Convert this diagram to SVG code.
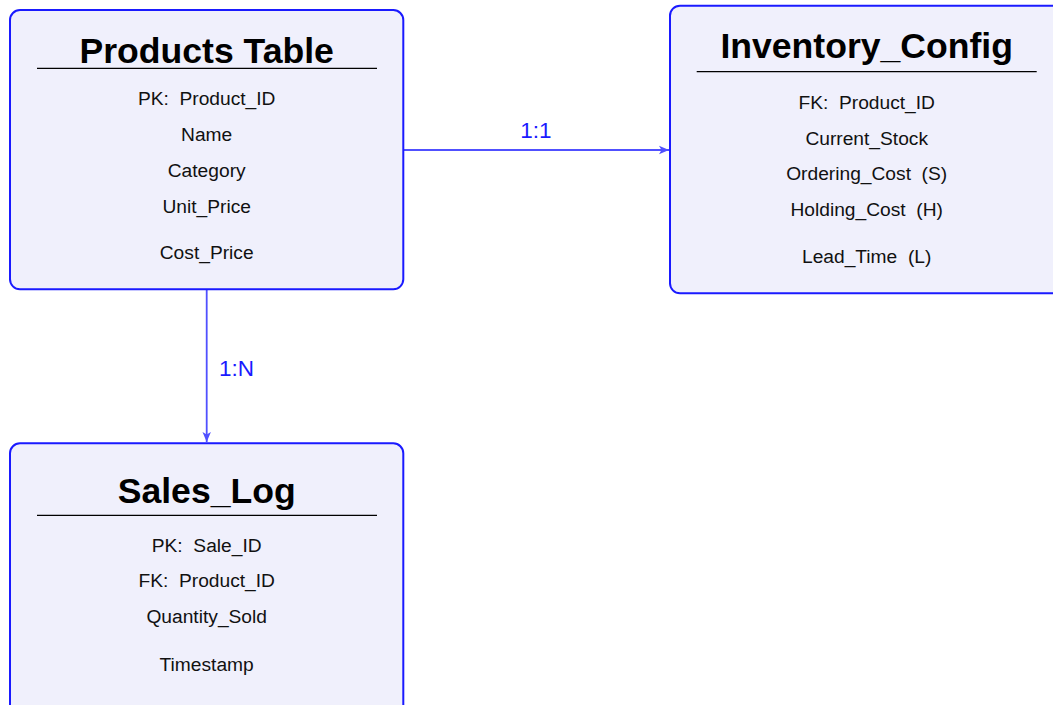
<svg xmlns="http://www.w3.org/2000/svg" width="1053" height="705" viewBox="0 0 1053 705">
<defs>
<style>
.box{fill:#f0f0fc;stroke:#1a1aff;stroke-width:2}
.rule{stroke:#000;stroke-width:1.2}
.title{font-family:"Liberation Sans",Arial,sans-serif;font-weight:bold;font-size:35.6px;fill:#000;text-anchor:middle}
.attr{font-family:"Liberation Sans",Arial,sans-serif;font-size:19.2px;fill:#111;text-anchor:middle;white-space:pre}
.conn{stroke:#5050ff;stroke-width:1.8;fill:none}
.lbl{font-family:"Liberation Sans",Arial,sans-serif;font-size:22.5px;fill:#1a1aff}
</style>
<marker id="arr" viewBox="0 0 10 10" refX="10" refY="5" markerWidth="10" markerHeight="10" markerUnits="userSpaceOnUse" orient="auto">
<path d="M0,0.8 L10,5 L0,9.2 L2.5,5 Z" fill="#5050ff"/>
</marker>
</defs>
<rect width="1053" height="705" fill="#fff"/>
<g id="connectors">
<line class="conn" x1="404" y1="150" x2="669" y2="150" marker-end="url(#arr)"/>
<text class="lbl" x="536" y="137.5" text-anchor="middle">1:1</text>
<line class="conn" x1="206.7" y1="290" x2="206.7" y2="442" marker-end="url(#arr)"/>
<text class="lbl" x="219" y="376">1:N</text>
</g>
<g id="products">
<rect class="box" x="10" y="10" width="393.3" height="279.3" rx="10"/>
<text class="title" x="206.7" y="63">Products Table</text>
<line class="rule" x1="37" y1="68.3" x2="377" y2="68.3"/>
<text class="attr" x="206.7" y="105" xml:space="preserve">PK:  Product_ID</text>
<text class="attr" x="206.7" y="141">Name</text>
<text class="attr" x="206.7" y="176.7">Category</text>
<text class="attr" x="206.7" y="212.7">Unit_Price</text>
<text class="attr" x="206.7" y="259.3">Cost_Price</text>
</g>
<g id="inventory">
<rect class="box" x="670" y="5.7" width="393.3" height="287.6" rx="10"/>
<text class="title" x="866.7" y="58.3">Inventory_Config</text>
<line class="rule" x1="696.7" y1="71.7" x2="1036.7" y2="71.7"/>
<text class="attr" x="866.7" y="109.3" xml:space="preserve">FK:  Product_ID</text>
<text class="attr" x="866.7" y="145">Current_Stock</text>
<text class="attr" x="866.7" y="180" xml:space="preserve">Ordering_Cost  (S)</text>
<text class="attr" x="866.7" y="216" xml:space="preserve">Holding_Cost  (H)</text>
<text class="attr" x="866.7" y="263.3" xml:space="preserve">Lead_Time  (L)</text>
</g>
<g id="sales">
<rect class="box" x="10" y="443.3" width="393.3" height="279.3" rx="10"/>
<text class="title" x="206.7" y="502.7">Sales_Log</text>
<line class="rule" x1="37" y1="515.3" x2="377" y2="515.3"/>
<text class="attr" x="206.7" y="551.7" xml:space="preserve">PK:  Sale_ID</text>
<text class="attr" x="206.7" y="587.3" xml:space="preserve">FK:  Product_ID</text>
<text class="attr" x="206.7" y="623.3">Quantity_Sold</text>
<text class="attr" x="206.7" y="670.7">Timestamp</text>
</g>
</svg>
